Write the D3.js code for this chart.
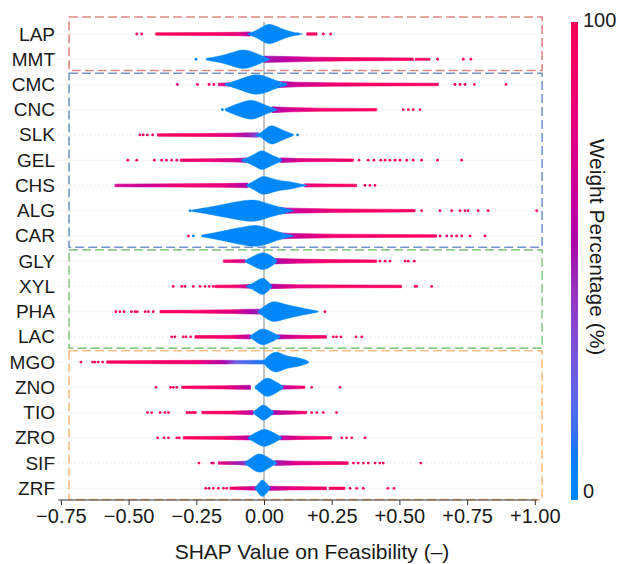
<!DOCTYPE html>
<html>
<head>
<meta charset="utf-8">
<script src="https://cdn.jsdelivr.net/npm/d3@7"></script>
<style>
  body { margin: 0; background: #fff; }
  text { font-family: "Liberation Sans", Arial, sans-serif; fill: #1a1a1a; }
</style>
</head>
<body>
<div id="chart"></div>
<script>
// features, top to bottom
const features = ['LAP', 'MMT', 'CMC', 'CNC', 'SLK', 'GEL', 'CHS', 'ALG', 'CAR',
  'GLY', 'XYL', 'PHA', 'LAC', 'MGO', 'ZNO', 'TIO', 'ZRO', 'SIF', 'ZRF'];

// dashed group boxes: first and last feature of each group
const groupFirst = ['LAP', 'CMC', 'GLY', 'MGO'];
const groupLast = ['MMT', 'CAR', 'LAC', 'ZRF'];

const xTicks = [-0.75, -0.5, -0.25, 0, 0.25, 0.5, 0.75, 1.0];

// dense low-weight body of each swarm: [shap value, relative density]
const bodies = [
  [[-0.06, 0.05], [-0.03, 0.3], [0.0, 0.8], [0.022, 1.0], [0.05, 0.7], [0.08, 0.35], [0.11, 0.15], [0.14, 0.04]],
  [[-0.214, 0.08], [-0.17, 0.25], [-0.12, 0.6], [-0.08, 1.0], [-0.04, 0.7], [-0.01, 0.35], [0.01, 0.15], [0.02, 0.05]],
  [[-0.144, 0.08], [-0.11, 0.3], [-0.07, 0.7], [-0.03, 1.0], [0.0, 0.85], [0.03, 0.5], [0.06, 0.25], [0.085, 0.08]],
  [[-0.144, 0.08], [-0.12, 0.35], [-0.09, 0.65], [-0.055, 0.95], [-0.03, 0.85], [0.0, 0.5], [0.03, 0.2], [0.047, 0.06]],
  [[-0.03, 0.05], [-0.01, 0.2], [0.01, 0.7], [0.028, 0.95], [0.05, 0.7], [0.08, 0.35], [0.108, 0.08]],
  [[-0.082, 0.08], [-0.05, 0.35], [-0.02, 0.8], [-0.008, 0.95], [0.01, 0.75], [0.04, 0.35], [0.065, 0.1]],
  [[-0.064, 0.08], [-0.035, 0.4], [-0.008, 0.95], [0.02, 0.75], [0.05, 0.5], [0.08, 0.4], [0.11, 0.3], [0.135, 0.12], [0.158, 0.04]],
  [[-0.267, 0.06], [-0.22, 0.25], [-0.16, 0.55], [-0.1, 0.85], [-0.045, 1.08], [-0.01, 0.9], [0.02, 0.6], [0.06, 0.35], [0.09, 0.15], [0.108, 0.05]],
  [[-0.23, 0.08], [-0.17, 0.35], [-0.11, 0.7], [-0.04, 1.05], [-0.01, 0.95], [0.02, 0.7], [0.05, 0.4], [0.08, 0.2], [0.108, 0.05]],
  [[-0.07, 0.08], [-0.04, 0.45], [-0.008, 0.9], [0.02, 0.65], [0.047, 0.12]],
  [[-0.064, 0.06], [-0.035, 0.35], [-0.008, 0.9], [0.01, 0.6], [0.028, 0.12]],
  [[-0.021, 0.08], [0.0, 0.5], [0.02, 0.85], [0.041, 1.0], [0.07, 0.75], [0.11, 0.5], [0.15, 0.3], [0.18, 0.15], [0.2, 0.04]],
  [[-0.052, 0.08], [-0.03, 0.45], [-0.008, 0.85], [0.02, 0.6], [0.04, 0.3], [0.059, 0.08]],
  [[0.0, 0.15], [0.015, 0.6], [0.035, 0.95], [0.055, 0.95], [0.075, 0.65], [0.1, 0.5], [0.13, 0.4], [0.155, 0.2], [0.165, 0.05]],
  [[-0.033, 0.08], [-0.01, 0.6], [0.01, 0.95], [0.03, 0.75], [0.05, 0.45], [0.071, 0.1]],
  [[-0.04, 0.08], [-0.02, 0.45], [-0.003, 0.85], [0.015, 0.5], [0.035, 0.1]],
  [[-0.058, 0.08], [-0.03, 0.5], [-0.003, 0.9], [0.02, 0.7], [0.045, 0.35], [0.065, 0.08]],
  [[-0.07, 0.08], [-0.045, 0.55], [-0.021, 0.95], [0.0, 0.8], [0.025, 0.35], [0.047, 0.08]],
  [[-0.033, 0.08], [-0.02, 0.45], [-0.008, 0.9], [0.005, 0.6], [0.022, 0.1]]
];

// dense streaks of overlapping points: segments of [shap value, weight %, relative density]
const streaks = [
  [[[-0.40, 96, 0.12], [-0.2, 93, 0.14], [-0.1, 85, 0.16], [-0.05, 55, 0.2]], [[0.158, 95, 0.12], [0.196, 95, 0.12]]],
  [[[0.0, 50, 0.3], [0.08, 60, 0.26], [0.18, 75, 0.2], [0.3, 90, 0.16], [0.552, 95, 0.12]], [[0.558, 95, 0.1], [0.613, 95, 0.1]]],
  [[[-0.169, 80, 0.12], [-0.1, 60, 0.18]], [[0.04, 55, 0.3], [0.12, 65, 0.22], [0.25, 85, 0.16], [0.4, 92, 0.14], [0.644, 95, 0.12]]],
  [[[0.03, 55, 0.28], [0.1, 70, 0.2], [0.2, 88, 0.15], [0.416, 95, 0.12]]],
  [[[-0.394, 96, 0.12], [-0.25, 92, 0.14], [-0.12, 75, 0.16], [-0.06, 50, 0.2], [-0.02, 30, 0.22]]],
  [[[-0.31, 90, 0.12], [-0.2, 85, 0.14], [-0.1, 70, 0.18], [-0.06, 50, 0.22]], [[0.06, 55, 0.22], [0.15, 80, 0.15], [0.33, 92, 0.12]]],
  [[[-0.55, 70, 0.12], [-0.45, 65, 0.14], [-0.3, 85, 0.16], [-0.15, 80, 0.18], [-0.06, 55, 0.22]], [[0.15, 80, 0.16], [0.25, 92, 0.13], [0.342, 95, 0.12]]],
  [[[0.03, 50, 0.32], [0.1, 65, 0.24], [0.25, 85, 0.17], [0.4, 92, 0.14], [0.558, 95, 0.12]]],
  [[[0.03, 50, 0.32], [0.1, 65, 0.24], [0.25, 85, 0.17], [0.45, 92, 0.14], [0.638, 95, 0.12]]],
  [[[-0.15, 90, 0.12], [-0.07, 70, 0.16]], [[0.04, 55, 0.26], [0.12, 75, 0.2], [0.25, 90, 0.15], [0.416, 95, 0.12]]],
  [[[-0.181, 92, 0.12], [-0.1, 85, 0.14], [-0.05, 60, 0.18]], [[0.025, 55, 0.22], [0.12, 80, 0.16], [0.3, 92, 0.13], [0.508, 95, 0.12]]],
  [[[-0.384, 96, 0.12], [-0.25, 92, 0.14], [-0.12, 80, 0.18], [-0.05, 55, 0.22], [0.0, 40, 0.25]]],
  [[[-0.255, 95, 0.12], [-0.12, 88, 0.15], [-0.05, 60, 0.2]], [[0.05, 55, 0.2], [0.14, 80, 0.15], [0.231, 92, 0.12]]],
  [[[-0.581, 96, 0.12], [-0.4, 93, 0.15], [-0.25, 85, 0.17], [-0.15, 55, 0.17], [-0.1, 25, 0.16], [0.0, 10, 0.18]]],
  [[[-0.304, 96, 0.12], [-0.15, 88, 0.15], [-0.05, 55, 0.2]], [[0.06, 60, 0.18], [0.151, 90, 0.12]]],
  [[[-0.288, 96, 0.1], [-0.25, 96, 0.1]], [[-0.23, 96, 0.12], [-0.12, 90, 0.14], [-0.04, 60, 0.2]], [[0.03, 55, 0.2], [0.158, 92, 0.12]]],
  [[[-0.298, 96, 0.12], [-0.15, 90, 0.15], [-0.05, 60, 0.2]], [[0.06, 60, 0.2], [0.15, 85, 0.15], [0.25, 92, 0.12]]],
  [[[-0.169, 80, 0.12], [-0.1, 50, 0.15], [-0.06, 40, 0.2]], [[0.04, 50, 0.24], [0.12, 75, 0.18], [0.311, 92, 0.13]]],
  [[[-0.126, 92, 0.12], [-0.03, 65, 0.18]], [[0.02, 60, 0.2], [0.1, 80, 0.16], [0.231, 92, 0.13]], [[0.24, 95, 0.12], [0.299, 95, 0.12]]]
];

// isolated points: [shap value, weight %]
const dots = [
  [[-0.47, 95], [-0.452, 95], [0.124, 0], [0.219, 95], [0.246, 95]],
  [[-0.251, 0], [0.641, 95], [0.736, 95], [0.764, 95]],
  [[-0.32, 70], [-0.246, 85], [-0.203, 90], [-0.185, 90], [0.705, 95], [0.724, 95], [0.742, 95], [0.777, 95], [0.894, 95]],
  [[-0.154, 0], [0.514, 95], [0.533, 95], [0.551, 95], [0.576, 95]],
  [[-0.458, 95], [-0.446, 95], [-0.431, 95], [-0.411, 90], [0.124, 0]],
  [[-0.503, 95], [-0.47, 95], [-0.405, 95], [-0.378, 90], [-0.36, 90], [-0.341, 85], [-0.322, 90],
    [0.351, 95], [0.385, 95], [0.406, 95], [0.431, 95], [0.447, 95], [0.465, 95], [0.484, 95], [0.502, 95],
    [0.527, 95], [0.551, 95], [0.582, 95], [0.641, 95], [0.730, 95]],
  [[0.373, 95], [0.391, 95], [0.41, 95]],
  [[-0.273, 0], [0.582, 95], [0.65, 80], [0.693, 95], [0.724, 95], [0.742, 95], [0.754, 95], [0.791, 95], [0.828, 95], [1.007, 95]],
  [[-0.279, 95], [-0.261, 0], [0.65, 95], [0.675, 80], [0.693, 95], [0.711, 95], [0.73, 95], [0.761, 95], [0.816, 95]],
  [[0.428, 95], [0.447, 95], [0.465, 95], [0.521, 95], [0.533, 95], [0.555, 95]],
  [[-0.335, 95], [-0.304, 95], [-0.292, 95], [-0.261, 95], [-0.236, 95], [-0.218, 95], [-0.202, 95], [-0.187, 95],
    [0.558, 95], [0.564, 95], [0.619, 95]],
  [[-0.547, 95], [-0.532, 95], [-0.517, 95], [-0.489, 95], [-0.476, 95], [-0.468, 95], [-0.439, 95], [-0.427, 95], [-0.409, 95], [0.225, 95]],
  [[-0.341, 95], [-0.329, 95], [-0.298, 95], [-0.288, 95], [-0.271, 95], [0.256, 95], [0.268, 95], [0.284, 95], [0.34, 95], [0.361, 95]],
  [[-0.676, 95], [-0.633, 95], [-0.624, 95], [-0.612, 95], [-0.596, 95]],
  [[-0.399, 95], [-0.345, 95], [-0.335, 95], [-0.322, 95], [0.176, 95], [0.281, 95]],
  [[-0.43, 95], [-0.415, 95], [-0.384, 95], [-0.366, 95], [-0.353, 95], [0.176, 95], [0.195, 95], [0.219, 95], [0.268, 95]],
  [[-0.393, 95], [-0.369, 95], [-0.353, 95], [-0.322, 95], [-0.313, 95], [0.287, 95], [0.305, 95], [0.324, 95], [0.373, 95]],
  [[-0.24, 95], [-0.193, 85], [-0.187, 95], [0.33, 95], [0.348, 95], [0.367, 95], [0.385, 95], [0.41, 95], [0.428, 95], [0.44, 95], [0.579, 95]],
  [[-0.215, 95], [-0.203, 95], [-0.187, 95], [-0.169, 95], [-0.15, 95], [-0.138, 95], [0.318, 95], [0.342, 95], [0.367, 95], [0.457, 95], [0.48, 95]]
];

const width = 618;
const height = 564;
const boxColors = ['#dc8883', '#7497cb', '#8fc98c', '#f9bd85'];

// shap-style red/blue map: hcl hue sweep with a lightness dip in the middle
function weightColor(w) {
  const t = Math.max(0, Math.min(1, w / 100));
  const h = 266.94 + t * (380.32 - 266.94);
  const c = 70 + t * 20;
  const l = t < 0.5 ? 54 - 28 * t : 40 + 28 * (t - 0.5);
  return d3.hcl(h % 360, c, l).formatHex();
}

const x = d3.scaleLinear().domain([-0.76, 1.01]).range([58.2, 537.5]);
const y = d3.scalePoint().domain(features).range([34, 488.3]);
const dens = d3.scaleLinear().domain([0, 1]).range([0, 10.5]);

const svg = d3.select('#chart').append('svg')
  .attr('width', width).attr('height', height);
const defs = svg.append('defs');

// row guide lines
svg.append('g').selectAll('line').data(features).enter().append('line')
  .attr('x1', x(-0.76)).attr('x2', x(1.01))
  .attr('y1', d => y(d)).attr('y2', d => y(d))
  .attr('stroke', '#cccccc').attr('stroke-width', 0.8)
  .attr('stroke-dasharray', '1,3');

// zero line
svg.append('line')
  .attr('x1', x(0)).attr('x2', x(0)).attr('y1', 22).attr('y2', 500)
  .attr('stroke', '#bdbdbd').attr('stroke-width', 1.8);

// streaks
const streakG = svg.append('g');
const band = d3.area().x(d => x(d[0]));
features.forEach((f, i) => {
  streaks[i].forEach((seg, j) => {
    const x1 = x(seg[0][0]);
    const x2 = x(seg[seg.length - 1][0]);
    const id = `st-${i}-${j}`;
    const grad = defs.append('linearGradient').attr('id', id)
      .attr('gradientUnits', 'userSpaceOnUse')
      .attr('x1', x1).attr('x2', x2).attr('y1', 0).attr('y2', 0);
    seg.forEach(s => {
      grad.append('stop')
        .attr('offset', (x(s[0]) - x1) / Math.max(1, x2 - x1))
        .attr('stop-color', weightColor(s[1]));
    });
    streakG.append('path')
      .attr('d', band.y0(d => y(f) - dens(d[2])).y1(d => y(f) + dens(d[2]))(seg))
      .attr('fill', `url(#${id})`)
      .attr('stroke', `url(#${id})`).attr('stroke-width', 0.6)
      .attr('stroke-linejoin', 'round');
  });
});

// bodies
const area = d3.area()
  .x(d => x(d[0]))
  .curve(d3.curveBasis);
svg.append('g').selectAll('path').data(features).enter().append('path')
  .attr('d', (f, i) => area.y0(d => y(f) - dens(d[1])).y1(d => y(f) + dens(d[1]))(bodies[i]))
  .attr('fill', weightColor(0))
  .attr('stroke', weightColor(0)).attr('stroke-width', 0.8).attr('stroke-opacity', 0.5);

// isolated dots
features.forEach((f, i) => {
  svg.append('g').selectAll('circle').data(dots[i]).enter().append('circle')
    .attr('cx', d => x(d[0])).attr('cy', y(f)).attr('r', 1.4)
    .attr('fill', d => weightColor(d[1]));
});

// group boxes
groupFirst.forEach((f, i) => {
  const top = y(f) - (i === 0 ? 17 : 11.3);
  const bottom = y(groupLast[i]) + 11.3;
  svg.append('rect')
    .attr('x', x(-0.72)).attr('y', top)
    .attr('width', x(1.027) - x(-0.72)).attr('height', bottom - top)
    .attr('fill', 'none').attr('stroke', boxColors[i])
    .attr('stroke-width', 1.6).attr('stroke-dasharray', '9,4');
});

// feature labels
svg.append('g').selectAll('text').data(features).enter().append('text')
  .attr('x', 55).attr('y', d => y(d))
  .attr('text-anchor', 'end').attr('dominant-baseline', 'central')
  .attr('font-size', 19).text(d => d);

// x axis
const fmt = d => d === 0 ? '0.00' : (d > 0 ? '+' : '\u2212') + Math.abs(d).toFixed(2);
const axis = svg.append('g').attr('transform', 'translate(0,500)')
  .call(d3.axisBottom(x).tickValues(xTicks).tickFormat(fmt).tickSize(5).tickPadding(4));
axis.select('.domain').remove();
axis.append('line').attr('x1', x(-0.76)).attr('x2', x(1.01))
  .attr('stroke', '#333');
axis.selectAll('.tick line').attr('stroke', '#333');
axis.selectAll('.tick text').attr('font-size', 20).attr('fill', '#1a1a1a')
  .style('font-family', '"Liberation Sans", Arial, sans-serif');

svg.append('text')
  .attr('x', 312).attr('y', 551)
  .attr('text-anchor', 'middle').attr('dominant-baseline', 'central')
  .attr('font-size', 21).text('SHAP Value on Feasibility (\u2013)');

// colour bar
const cb = defs.append('linearGradient').attr('id', 'cbar')
  .attr('x1', 0).attr('x2', 0).attr('y1', 1).attr('y2', 0);
d3.range(0, 101, 5).forEach(w => {
  cb.append('stop').attr('offset', w / 100).attr('stop-color', weightColor(w));
});
svg.append('rect').attr('x', 571).attr('y', 22).attr('width', 7).attr('height', 478)
  .attr('fill', 'url(#cbar)');
svg.append('text').attr('x', 583).attr('y', 20).attr('dominant-baseline', 'central')
  .attr('font-size', 20).text('100');
svg.append('text').attr('x', 583).attr('y', 491).attr('dominant-baseline', 'central')
  .attr('font-size', 20).text('0');
svg.append('text').attr('transform', 'translate(597,247) rotate(90)')
  .attr('text-anchor', 'middle').attr('dominant-baseline', 'central')
  .attr('font-size', 21).text('Weight Percentage (%)');
</script>
</body>
</html>
